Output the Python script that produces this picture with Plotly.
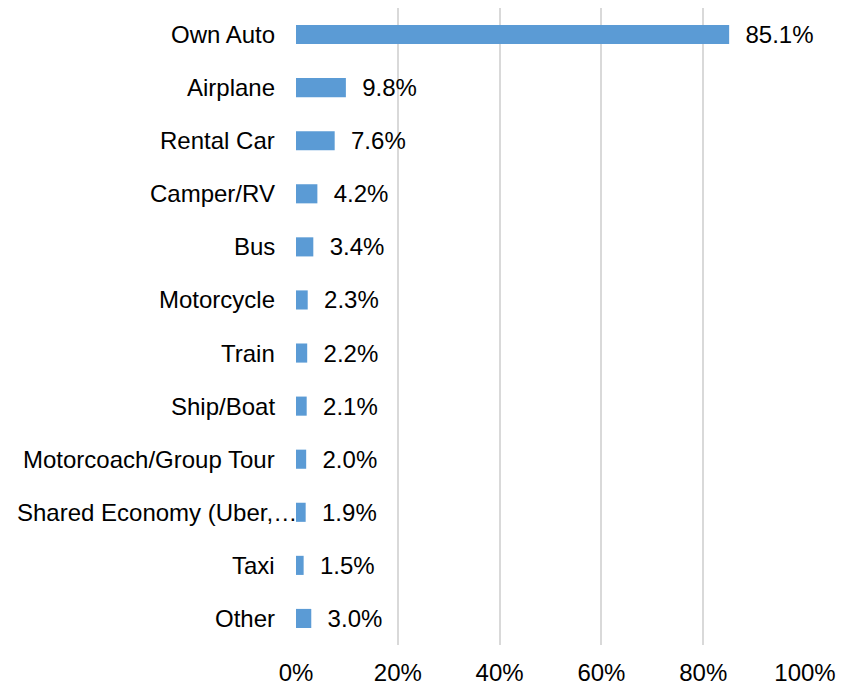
import plotly.graph_objects as go

categories = ["Own Auto", "Airplane", "Rental Car", "Camper/RV", "Bus", "Motorcycle",
              "Train", "Ship/Boat", "Motorcoach/Group Tour", "Shared Economy (Uber,…",
              "Taxi", "Other"]
values = [85.1, 9.8, 7.6, 4.2, 3.4, 2.3, 2.2, 2.1, 2.0, 1.9, 1.5, 3.0]
x_ticks = [0, 20, 40, 60, 80, 100]
x_tick_labels = ["0%", "20%", "40%", "60%", "80%", "100%"]

font = dict(family="Liberation Sans, Arial, sans-serif", size=24, color="#000000")

fig = go.Figure(go.Bar(
    y=categories,
    x=values,
    orientation="h",
    marker=dict(color="#5b9bd5", line=dict(width=0)),
    text=[f"\u00a0\u00a0{v:.1f}%" for v in values],
    textposition="outside",
    constraintext="none",
    textfont=font,
    cliponaxis=False,
    hoverinfo="skip",
))

# category labels placed at the category positions of the y axis
for c in categories:
    shift = 3 if c.startswith("Shared") else -19
    fig.add_annotation(x=0, y=c, xref="x", yref="y", text=c, showarrow=False,
                       xanchor="right", yanchor="middle", xshift=shift, font=font)

fig.update_layout(
    width=854, height=688,
    margin=dict(l=296, r=49, t=8, b=43, autoexpand=False),
    paper_bgcolor="white", plot_bgcolor="white",
    font=font,
    bargap=0.64,
    showlegend=False,
    xaxis=dict(
        range=[0, 100], tickvals=x_ticks, ticktext=x_tick_labels,
        showgrid=True, gridcolor="#d9d9d9", gridwidth=2,
        zeroline=False, showline=False, ticks="",
        ticklabelstandoff=11, tickfont=font, fixedrange=True, automargin=False,
    ),
    yaxis=dict(
        categoryorder="array", categoryarray=categories, autorange="reversed",
        showgrid=False, zeroline=False, showline=False, ticks="",
        showticklabels=False, fixedrange=True, automargin=False,
    ),
)

fig.write_html("out.html")
